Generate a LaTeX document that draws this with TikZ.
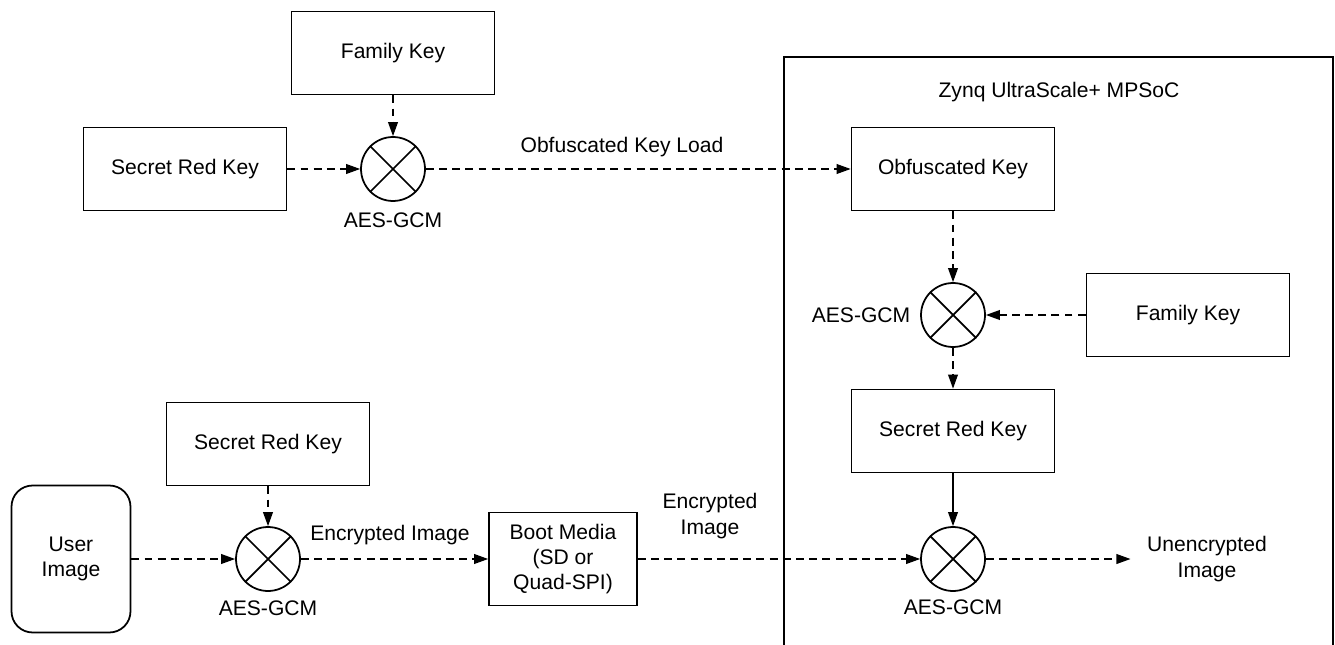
\documentclass[tikz,border=0pt]{standalone}
\usepackage{fontspec}
\setmainfont{Liberation Sans}
\usetikzlibrary{arrows.meta}

\begin{document}
\begin{tikzpicture}[x=0.02cm, y=-0.02cm, font=\fontsize{12}{14.4}\selectfont,
    keybox/.style={draw, line width=1pt, minimum width=4.06cm, minimum height=1.66cm},
    xorop/.style={draw, circle, line width=1pt, minimum size=1.28cm, inner sep=0pt},
    flow/.style={-{Triangle[length=8pt,width=5.6pt]}, line width=0.7pt, dash pattern=on 4.5pt off 3pt},
    solidflow/.style={-{Triangle[length=8pt,width=5.6pt]}, line width=0.7pt}]
  \useasboundingbox (0,0) rectangle (1335,645);

  % Key obfuscation (offline)
  \node[keybox] (famkeyA) at (393,53) {Family Key};
  \node[keybox] (redkeyA) at (185,169) {Secret Red Key};
  \node[xorop] (aesA) at (393,169) {};
  \node (aesAlbl) at (393,220) {AES-GCM};
  \node (loadlbl) at (622,147) {Obfuscated Key Load};

  % Device
  \draw[line width=1pt] (784,650) -- (784,57) -- (1333,57) -- (1333,650);
  \node (soc) at (1059,92) {Zynq UltraScale+ MPSoC};
  \node[keybox] (obfkey) at (953,169) {Obfuscated Key};
  \node[xorop] (aesB) at (953,315) {};
  \node (aesBlbl) at (861,315) {AES-GCM};
  \node[keybox] (famkeyB) at (1188,315) {Family Key};
  \node[keybox] (redkeyB) at (953,431) {Secret Red Key};
  \node[xorop] (aesC) at (953,559) {};
  \node (aesClbl) at (953,607) {AES-GCM};
  \node[align=center] (plain) at (1207,559) {Unencrypted\\Image};

  % Image encryption
  \node[draw, line width=1pt, rounded corners=12pt, minimum width=2.38cm,
        minimum height=2.94cm, align=center] (user) at (71,559) {User\\Image};
  \node[keybox] (redkeyC) at (268,444) {Secret Red Key};
  \node[xorop] (aesD) at (268,559) {};
  \node (aesDlbl) at (268,608) {AES-GCM};
  \node (enclblA) at (390,535) {Encrypted Image};
  \node[draw, line width=1pt, minimum width=2.96cm, minimum height=1.86cm,
        align=center] (boot) at (563,559) {Boot Media\\(SD or\\Quad-SPI)};
  \node[align=center] (enclblB) at (710,516) {Encrypted\\Image};

  % Crosses
  \foreach \op in {aesA,aesB,aesC,aesD}{
    \draw[line width=1pt] (\op.north west) -- (\op.south east)
                          (\op.north east) -- (\op.south west);
  }

  % Connectors
  \draw[flow] (redkeyA) -- (aesA);
  \draw[flow] (famkeyA) -- (aesA);
  \draw[flow] (aesA) -- (obfkey);
  \draw[flow] (obfkey) -- (aesB);
  \draw[flow] (famkeyB) -- (aesB);
  \draw[flow] (aesB) -- (redkeyB);
  \draw[solidflow] (redkeyB) -- (aesC);
  \draw[flow, shorten >=6pt] (aesC) -- (plain.west);
  \draw[flow] (user) -- (aesD);
  \draw[flow] (redkeyC) -- (aesD);
  \draw[flow] (aesD) -- (boot);
  \draw[flow] (boot) -- (aesC);
\end{tikzpicture}
\end{document}
